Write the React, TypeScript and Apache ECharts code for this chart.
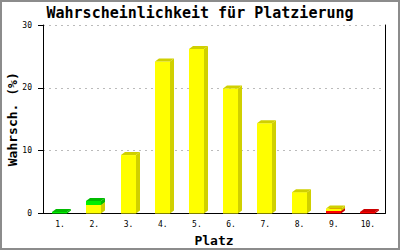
import React, { useEffect, useRef } from "react";
import * as echarts from "echarts";

const categories = ["1.", "2.", "3.", "4.", "5.", "6.", "7.", "8.", "9.", "10."];
const redValues = [0, 0, 0, 0, 0, 0, 0, 0, 0.4, 0.25];
const yellowValues = [0, 1.35, 9.3, 24.2, 26.2, 19.9, 14.35, 3.4, 0.4, 0];
const greenValues = [0.25, 0.65, 0, 0, 0, 0, 0, 0, 0, 0];
const yTicks = [0, 10, 20, 30];

const MONO = "'DejaVu Sans Mono', 'Liberation Mono', monospace";

export default function App() {
  const ref = useRef<HTMLDivElement>(null);
  useEffect(() => {
    if (!ref.current) return;
    const chart = echarts.init(ref.current, undefined, { renderer: "svg" });
    const segColors = [
      ["#ff0000", "#cc0000"],
      ["#ffff00", "#d0d000"],
      ["#00ee00", "#00bb00"],
    ];
    const data = categories.map((c, i) => [i, redValues[i], yellowValues[i], greenValues[i]]);
    const option: any = {
      animation: false,
      backgroundColor: "#ffffff",
      title: {
        text: "Wahrscheinlichkeit für Platzierung",
        left: "center",
        top: 0,
        textStyle: { fontFamily: MONO, fontWeight: "bold", fontSize: 15, color: "#000" },
      },
      grid: { left: 43, right: 15, top: 25, bottom: 36.5, outerBoundsMode: "none", containLabel: false },
      xAxis: {
        type: "category",
        data: categories,
        name: "Platz",
        nameLocation: "middle",
        nameGap: 20,
        nameTextStyle: { fontFamily: MONO, fontWeight: "bold", fontSize: 13, color: "#000" },
        axisLine: { lineStyle: { color: "#000", width: 1 } },
        axisTick: { show: false },
        axisLabel: { fontFamily: MONO, fontSize: 8, color: "#000", margin: 7 },
        splitLine: { show: false },
      },
      yAxis: [
        {
          type: "value",
          min: 0,
          max: 30,
          interval: 10,
          name: "Wahrsch. (%)",
          nameLocation: "middle",
          nameGap: 24,
          nameRotate: 90,
          nameMoveOverlap: false,
          nameTextStyle: { fontFamily: MONO, fontWeight: "bold", fontSize: 13, color: "#000" },
          axisLine: { show: true, lineStyle: { color: "#000", width: 1 } },
          axisTick: { show: true, length: 5, lineStyle: { color: "#000" } },
          axisLabel: {
            fontFamily: MONO,
            fontSize: 8,
            color: "#000",
            margin: 11,
            formatter: (v: number) => (yTicks.includes(v) ? String(v) : ""),
          },
          splitLine: {
            show: true,
            lineStyle: { color: "#bbbbbb", type: [2, 4], width: 1 },
          },
        },
        {
          type: "value",
          min: 0,
          max: 30,
          interval: 10,
          position: "right",
          axisLine: { show: true, lineStyle: { color: "#000", width: 1 } },
          axisTick: { show: false },
          axisLabel: { show: false },
          splitLine: { show: false },
        },
      ],
      graphic: [
        {
          type: "rect",
          shape: { x: 1, y: 1, width: 398, height: 248 },
          style: { fill: "none", stroke: "#8c8c8c", lineWidth: 2 },
          silent: true,
          z: 100,
        },
      ],
      series: [
        {
          type: "custom",
          coordinateSystem: "cartesian2d",
          xAxisIndex: 0,
          yAxisIndex: 0,
          encode: { x: 0, y: [1, 2, 3] },
          data,
          renderItem: (params: any, api: any) => {
            const i = api.value(0);
            const vals = [api.value(1), api.value(2), api.value(3)];
            const children: any[] = [];
            const w = 15;
            const dx = 4;
            const dy = 3;
            let base = 0;
            vals.forEach((v: number, k: number) => {
              if (!v || v <= 0) return;
              const p0 = api.coord([i, base]);
              const p1 = api.coord([i, base + v]);
              const x0 = Math.round(p0[0] - 8);
              const x1 = x0 + w;
              const yb = p0[1];
              const yt = p1[1];
              const [front, dark] = segColors[k];
              children.push({
                type: "rect",
                shape: { x: x0, y: yt, width: w, height: yb - yt },
                style: { fill: front },
              });
              children.push({
                type: "polygon",
                shape: { points: [[x1, yb], [x1 + dx, yb - dy], [x1 + dx, yt - dy], [x1, yt]] },
                style: { fill: dark },
              });
              children.push({
                type: "polygon",
                shape: { points: [[x0, yt], [x0 + dx, yt - dy], [x1 + dx, yt - dy], [x1, yt]] },
                style: { fill: dark },
              });
              base += v;
            });
            return { type: "group", children };
          },
        },
      ],
    };
    chart.setOption(option);
    return () => chart.dispose();
  }, []);
  return (
    <div
      ref={ref}
      style={{ position: "fixed", left: 0, top: 0, width: 400, height: 250 }}
    />
  );
}
